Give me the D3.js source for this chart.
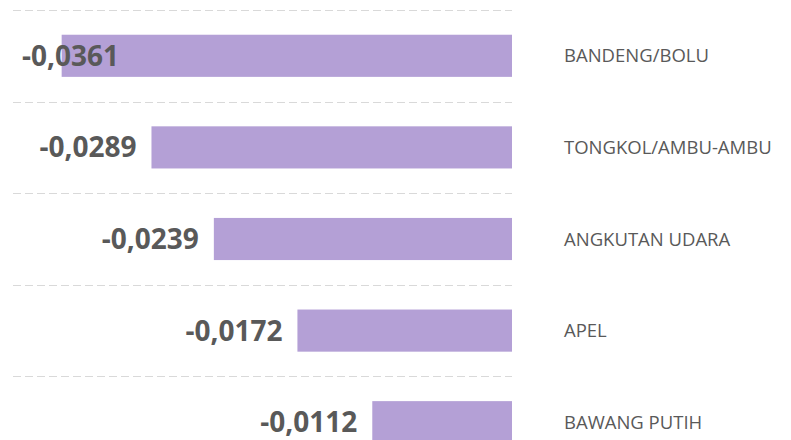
<!DOCTYPE html>
<html lang="en">
<head>
<meta charset="utf-8" />
<title>Bar chart</title>
<script src="https://d3js.org/d3.v7.min.js"></script>
<style>
  body { margin: 0; background: #fff; }
  svg { display: block; }
</style>
</head>
<body>
<div id="chart"></div>
<script>
  var categories = ["BANDENG/BOLU", "TONGKOL/AMBU-AMBU", "ANGKUTAN UDARA", "APEL", "BAWANG PUTIH"];
  var values = [-0.0361, -0.0289, -0.0239, -0.0172, -0.0112];
  var valueLabels = ["-0,0361", "-0,0289", "-0,0239", "-0,0172", "-0,0112"];

  var width = 791,
      height = 440;

  var svg = d3.select("#chart")
              .append("svg")
              .attr("width", width)
              .attr("height", height);

  var x = d3.scaleLinear()
            .domain([-0.04, 0])
            .range([13, 512]);

  var y = d3.scaleBand()
            .domain(categories)
            .range([10, 468])
            .paddingInner(0.54)
            .paddingOuter(0.27);

  var gap = y.step() * y.paddingInner() / 2;

  // dashed gridlines between the bands
  svg.selectAll("line.grid")
     .data(categories)
     .enter().append("line")
     .attr("class", "grid")
     .attr("x1", x.range()[0])
     .attr("x2", x.range()[1])
     .attr("y1", function(d) { return Math.round(y(d) - gap) + 0.5; })
     .attr("y2", function(d) { return Math.round(y(d) - gap) + 0.5; })
     .attr("stroke", "#d9d9d9")
     .attr("stroke-width", 1)
     .attr("stroke-dasharray", "8,4");

  var rows = categories.map(function(c, i) {
    return {cat: c, value: values[i], label: valueLabels[i]};
  });

  svg.selectAll("rect.bar")
     .data(rows)
     .enter().append("rect")
     .attr("class", "bar")
     .attr("x", function(d) { return x(d.value); })
     .attr("y", function(d) { return y(d.cat); })
     .attr("width", function(d) { return x(0) - x(d.value); })
     .attr("height", y.bandwidth())
     .attr("fill", "#b4a0d6");

  // value labels, pushed inside the chart when they would run off the left
  svg.selectAll("text.val")
     .data(rows)
     .enter().append("text")
     .attr("class", "val")
     .attr("x", function(d) { return Math.max(x(d.value) - 15, 119); })
     .attr("y", function(d) { return y(d.cat) + y.bandwidth() / 2; })
     .attr("dy", "0.36em")
     .attr("text-anchor", "end")
     .attr("font-family", "'Open Sans', sans-serif")
     .attr("font-weight", "bold")
     .attr("font-size", "28px")
     .attr("fill", "#595959")
     .text(function(d) { return d.label; });

  svg.selectAll("text.cat")
     .data(rows)
     .enter().append("text")
     .attr("class", "cat")
     .attr("x", 564)
     .attr("y", function(d) { return y(d.cat) + y.bandwidth() / 2; })
     .attr("dy", "0.36em")
     .attr("font-family", "'Open Sans', sans-serif")
     .attr("font-size", "18.5px")
     .attr("fill", "#595959")
     .text(function(d) { return d.cat; });
</script>
</body>
</html>
